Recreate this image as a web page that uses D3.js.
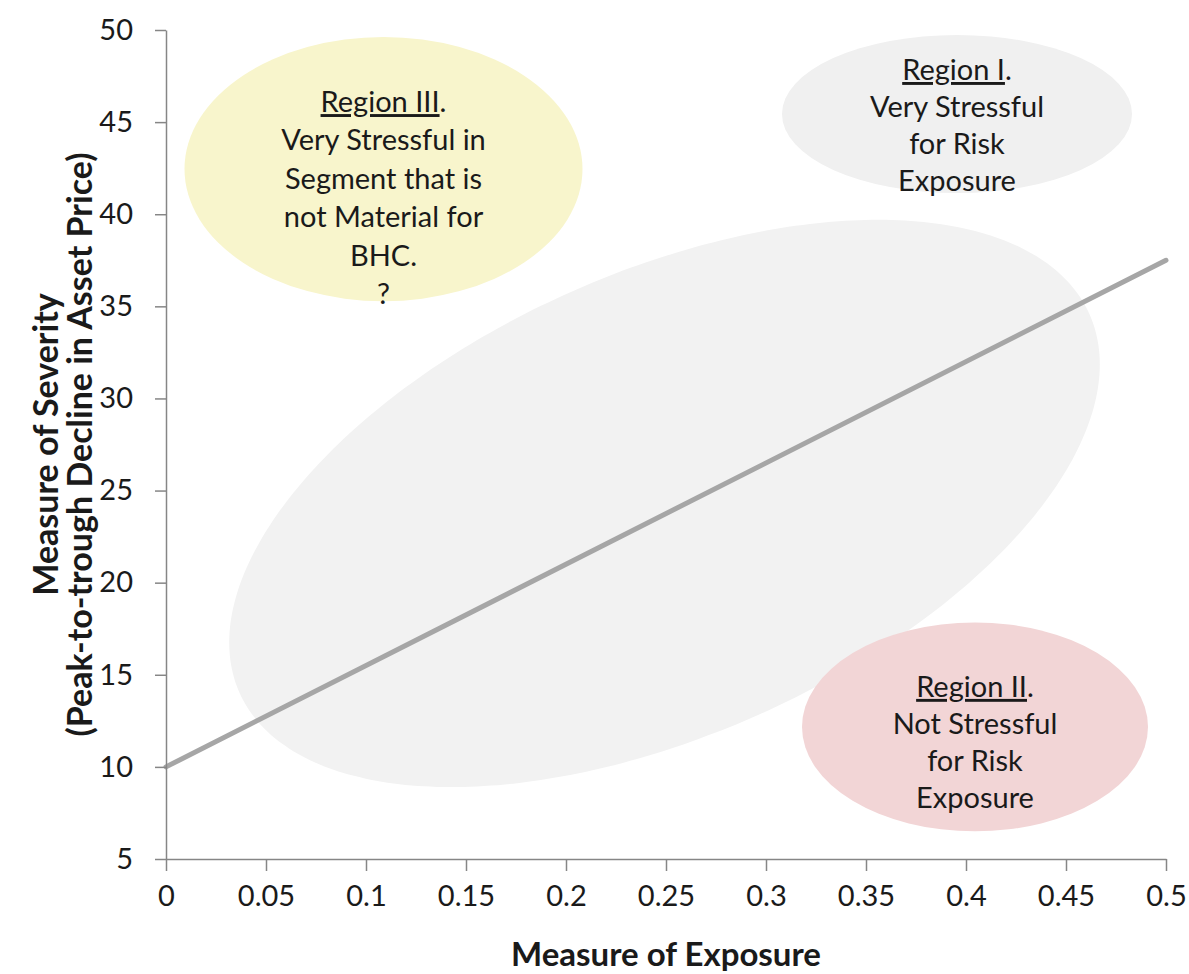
<!DOCTYPE html>
<html>
<head>
<meta charset="utf-8">
<script src="https://cdn.jsdelivr.net/npm/d3@7"></script>
<style>
  html, body { margin: 0; padding: 0; background: #ffffff; }
  svg { display: block; }
  text { font-family: Lato, "Open Sans", sans-serif; fill: #1a1a1a; }
</style>
</head>
<body>
<svg id="chart" width="1189" height="974"></svg>
<script>
// Axis ticks
const xTicks = [0, 0.05, 0.1, 0.15, 0.2, 0.25, 0.3, 0.35, 0.4, 0.45, 0.5];
const yTicks = [5, 10, 15, 20, 25, 30, 35, 40, 45, 50];
const xTickLabels = ["0", "0.05", "0.1", "0.15", "0.2", "0.25", "0.3", "0.35", "0.4", "0.45", "0.5"];
const yTickLabels = ["5", "10", "15", "20", "25", "30", "35", "40", "45", "50"];

// Threshold line: exposure vs. severity
const lineExposure = [0, 0.5];
const lineSeverity = [10, 37.5];

// Labelled regions (centre and semi-axes in data units)
const regionTitles = ["Region I", "Region II", "Region III"];
const regionText = [
  ["Very Stressful", "for Risk", "Exposure"],
  ["Not Stressful", "for Risk", "Exposure"],
  ["Very Stressful in", "Segment that is", "not Material for", "BHC.", "?"]
];
const regionCx = [0.3955, 0.4045, 0.10875];
const regionCy = [45.44, 12.17, 42.45];
const regionRx = [0.0875, 0.0865, 0.0995];
const regionRy = [4.29, 5.67, 7.17];

// Central band of plausible scenarios: centre plus the two semi-axis vectors (data units)
const bandCentre = [0.24925, 24.30];
const bandMajor = [0.2125, 10.27];
const bandMinor = [0.04706, -11.47];

// Presentation
const regionFill = ["#f0f0f0", "#f2d5d6", "#f8f5cc"];
const bandFill = "#f2f2f2";
const regionFirstLine = [-34, -30, -57];
const regionLineGap = [37, 37, 38.4];
const labelSize = "29px";

const svg = d3.select("#chart");
const margin = { left: 166, right: 23, top: 30, bottom: 115 };
const W = 1189, H = 974;

const x = d3.scaleLinear().domain([0, 0.5]).range([margin.left, W - margin.right]);
const y = d3.scaleLinear().domain([5, 50]).range([H - margin.bottom, margin.top]);

// Central band ellipse
const tSteps = d3.range(0, 180).map(i => i / 180 * 2 * Math.PI);
const bandPts = tSteps.map(t => [
  bandCentre[0] + bandMajor[0] * Math.cos(t) + bandMinor[0] * Math.sin(t),
  bandCentre[1] + bandMajor[1] * Math.cos(t) + bandMinor[1] * Math.sin(t)
]);
svg.append("path")
  .attr("d", d3.line().x(d => x(d[0])).y(d => y(d[1])).curve(d3.curveCardinalClosed)(bandPts))
  .attr("fill", bandFill);

// Region ellipses
const regions = regionTitles.map((name, i) => ({
  name, lines: regionText[i], cx: regionCx[i], cy: regionCy[i], rx: regionRx[i], ry: regionRy[i], i
}));
svg.append("g").selectAll("ellipse").data(regions).join("ellipse")
  .attr("cx", d => x(d.cx))
  .attr("cy", d => y(d.cy))
  .attr("rx", d => x(d.cx + d.rx) - x(d.cx))
  .attr("ry", d => y(d.cy - d.ry) - y(d.cy))
  .attr("fill", d => regionFill[d.i]);

// Threshold line
svg.append("path")
  .datum(lineExposure.map((v, i) => [v, lineSeverity[i]]))
  .attr("d", d3.line().x(d => x(d[0])).y(d => y(d[1])))
  .attr("fill", "none")
  .attr("stroke", "#a6a6a6")
  .attr("stroke-width", 5)
  .attr("stroke-linecap", "round");

// Axes
const axisColor = "#868686";
const xAxis = svg.append("g")
  .attr("transform", `translate(0,${y(5)})`)
  .call(d3.axisBottom(x).tickValues(xTicks).tickFormat((d, i) => xTickLabels[i]).tickSize(12).tickSizeOuter(0).tickPadding(14));
const yAxis = svg.append("g")
  .attr("transform", `translate(${x(0)},0)`)
  .call(d3.axisLeft(y).tickValues(yTicks).tickFormat((d, i) => yTickLabels[i]).tickSize(11).tickSizeOuter(0).tickPadding(22));
[xAxis, yAxis].forEach(g => {
  g.select(".domain").attr("stroke", axisColor).attr("stroke-width", 1.5);
  g.selectAll(".tick line").attr("stroke", axisColor).attr("stroke-width", 1.5);
  g.selectAll(".tick text")
    .attr("fill", "#1a1a1a")
    .style("font-family", "Lato, 'Open Sans', sans-serif")
    .style("font-size", "29px");
});

// Region labels
regions.forEach(d => {
  const cxp = x(d.cx);
  const base = y(d.cy) + regionFirstLine[d.i];
  const gap = regionLineGap[d.i];
  const title = svg.append("text")
    .attr("x", cxp).attr("y", base)
    .attr("text-anchor", "middle")
    .style("font-size", labelSize);
  title.append("tspan").attr("text-decoration", "underline").text(d.name);
  title.append("tspan").text(".");
  d.lines.forEach((ln, k) => {
    svg.append("text")
      .attr("x", cxp).attr("y", base + gap * (k + 1))
      .attr("text-anchor", "middle")
      .style("font-size", labelSize)
      .text(ln);
  });
});

// Axis titles
svg.append("text")
  .attr("x", (x(0) + x(0.5)) / 2).attr("y", 966)
  .attr("text-anchor", "middle")
  .style("font-size", "33px").style("font-weight", "bold")
  .text("Measure of Exposure");

const yTitle = svg.append("g").attr("transform", `translate(0,${(y(5) + y(50)) / 2}) rotate(-90)`);
yTitle.append("text")
  .attr("x", 0).attr("y", 58)
  .attr("text-anchor", "middle")
  .style("font-size", "34px").style("font-weight", "bold")
  .text("Measure of Severity");
yTitle.append("text")
  .attr("x", 0).attr("y", 92)
  .attr("text-anchor", "middle")
  .style("font-size", "34px").style("font-weight", "bold")
  .text("(Peak-to-trough Decline in Asset Price)");
</script>
</body>
</html>
